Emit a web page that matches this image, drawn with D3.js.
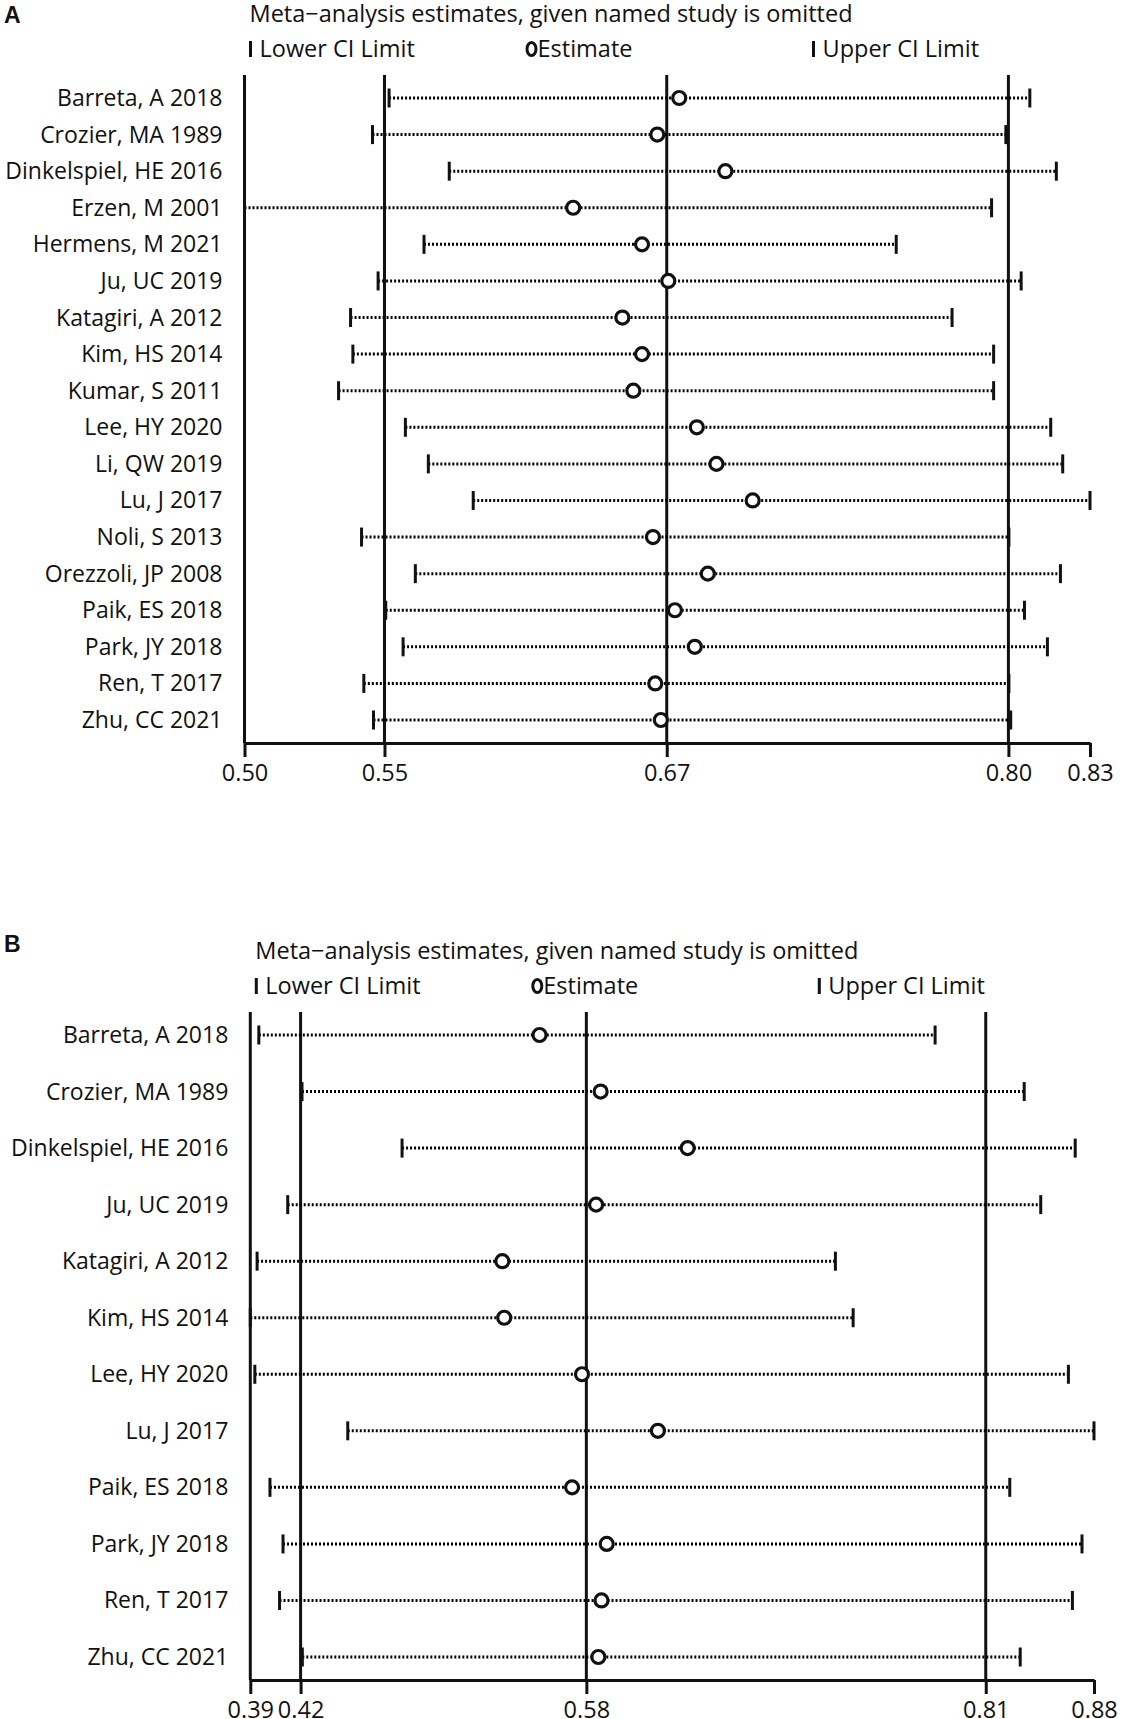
<!DOCTYPE html>
<html>
<head>
<meta charset="utf-8">
<script src="https://cdn.jsdelivr.net/npm/d3@7"></script>
<style>
  body { margin: 0; background: #fff; }
  text { font-family: "Open Sans", sans-serif; fill: #111; }
</style>
</head>
<body>
<div id="wrapper"></div>
<script>
const w = 1122
const h = 1719

const titleText = "Meta\u2212analysis estimates, given named study is omitted"
const legendLabels = ["Lower CI Limit", "Estimate", "Upper CI Limit"]

// panel A
const studiesA = ["Barreta, A 2018", "Crozier, MA 1989", "Dinkelspiel, HE 2016", "Erzen, M 2001",
  "Hermens, M 2021", "Ju, UC 2019", "Katagiri, A 2012", "Kim, HS 2014", "Kumar, S 2011",
  "Lee, HY 2020", "Li, QW 2019", "Lu, J 2017", "Noli, S 2013", "Orezzoli, JP 2008",
  "Paik, ES 2018", "Park, JY 2018", "Ren, T 2017", "Zhu, CC 2021"]
const lowerA = [0.5564, 0.5499, 0.5800, 0.4997, 0.5701, 0.5521, 0.5413, 0.5422, 0.5366,
  0.5628, 0.5718, 0.5894, 0.5456, 0.5667, 0.5551, 0.5619, 0.5465, 0.5503]
const estimateA = [0.6702, 0.6616, 0.6883, 0.6286, 0.6556, 0.6659, 0.6479, 0.6556, 0.6522,
  0.6771, 0.6848, 0.6990, 0.6599, 0.6814, 0.6685, 0.6763, 0.6608, 0.6630]
const upperA = [0.8077, 0.7983, 0.8181, 0.7927, 0.7553, 0.8043, 0.7772, 0.7935, 0.7935,
  0.8159, 0.8206, 0.8313, 0.7995, 0.8197, 0.8056, 0.8146, 0.7995, 0.8002]
// min, overall lower CI, overall estimate, overall upper CI, max
const ticksA = [0.4997, 0.5546, 0.6653, 0.7993, 0.8313]

// panel B
const studiesB = ["Barreta, A 2018", "Crozier, MA 1989", "Dinkelspiel, HE 2016", "Ju, UC 2019",
  "Katagiri, A 2012", "Kim, HS 2014", "Lee, HY 2020", "Lu, J 2017", "Paik, ES 2018",
  "Park, JY 2018", "Ren, T 2017", "Zhu, CC 2021"]
const lowerB = [0.3959, 0.4207, 0.4782, 0.4125, 0.3949, 0.3910, 0.3936, 0.4470, 0.4023,
  0.4098, 0.4078, 0.4209]
const estimateB = [0.5572, 0.5923, 0.6423, 0.5897, 0.5358, 0.5369, 0.5816, 0.6252, 0.5759,
  0.5958, 0.5928, 0.5910]
const upperB = [0.7845, 0.8357, 0.8650, 0.8452, 0.7272, 0.7374, 0.8611, 0.8758, 0.8274,
  0.8689, 0.8634, 0.8334]
const ticksB = [0.3910, 0.4199, 0.5841, 0.8136, 0.8758]

const svg = d3.select("#wrapper").append("svg")
  .attr("width", w)
  .attr("height", h)

function drawPanel(p) {
  const g = svg.append("g").attr("transform", `translate(0,${p.top})`)

  const plotTop = 75
  const plotBottom = 743

  const x = d3.scaleLinear()
    .domain(d3.extent(p.ticks))
    .range(p.xRange)

  const y = d3.scalePoint()
    .domain(p.studies)
    .range([plotTop + 23, plotBottom - 23])

  const left = x(p.ticks[0])

  // panel letter
  g.append("text")
    .attr("x", 4)
    .attr("y", p.letterY)
    .style("font-family", "'Liberation Sans', Arial, sans-serif")
    .style("font-weight", "700")
    .style("font-size", "23px")
    .text(p.letter)

  // title and legend
  g.append("text")
    .attr("x", left + 5)
    .attr("y", 22)
    .style("font-size", "23.5px")
    .text(titleText)

  const leg = g.append("g").attr("transform", `translate(${left},49)`)
  leg.append("line")
    .attr("x1", 6).attr("x2", 6).attr("y1", -8).attr("y2", 8)
    .attr("stroke", "#111").attr("stroke-width", 3)
  leg.append("text").attr("x", 15).attr("y", 8)
    .style("font-size", "23.5px").text(legendLabels[0])
  leg.append("ellipse")
    .attr("cx", 287).attr("cy", 0).attr("rx", 4.5).attr("ry", 6.5)
    .attr("fill", "none").attr("stroke", "#111").attr("stroke-width", 3)
  leg.append("text").attr("x", 293).attr("y", 8)
    .style("font-size", "23.5px").text(legendLabels[1])
  leg.append("line")
    .attr("x1", 569).attr("x2", 569).attr("y1", -8).attr("y2", 8)
    .attr("stroke", "#111").attr("stroke-width", 3)
  leg.append("text").attr("x", 578).attr("y", 8)
    .style("font-size", "23.5px").text(legendLabels[2])

  // vertical reference lines: left axis, overall lower CI, estimate, upper CI
  g.selectAll(".ref")
    .data(p.ticks.slice(0, 4))
    .enter().append("line")
    .attr("class", "ref")
    .attr("x1", d => x(d)).attr("x2", d => x(d))
    .attr("y1", plotTop).attr("y2", plotBottom)
    .attr("stroke", "#111")
    .attr("stroke-width", 3)

  // x axis
  const axis = g.append("g")
    .attr("transform", `translate(0,${plotBottom})`)
    .call(d3.axisBottom(x)
      .tickValues(p.ticks)
      .tickFormat(d3.format(".2f"))
      .tickSize(14)
      .tickSizeOuter(0))
  axis.select(".domain").attr("stroke", "#111").attr("stroke-width", 3)
  axis.selectAll(".tick line").attr("stroke", "#111").attr("stroke-width", 3)
  axis.selectAll(".tick text")
    .attr("y", 38).attr("dy", null)
    .style("font-size", "23.5px")
    .style("font-family", "'Open Sans', sans-serif")
    .attr("fill", "#111")

  const rows = p.studies.map((s, i) => ({
    name: s, lo: p.lower[i], est: p.estimate[i], hi: p.upper[i]
  }))

  const row = g.selectAll(".row")
    .data(rows)
    .enter().append("g")
    .attr("class", "row")
    .attr("transform", d => `translate(0,${y(d.name)})`)

  row.append("text")
    .attr("x", left - 22)
    .attr("y", 8)
    .attr("text-anchor", "end")
    .style("font-size", "23px")
    .text(d => d.name)

  // dotted CI line
  row.append("line")
    .attr("x1", d => x(d.lo)).attr("x2", d => x(d.hi))
    .attr("stroke", "#000")
    .attr("stroke-width", 3)
    .attr("stroke-dasharray", "2,2")

  row.selectAll(".cap")
    .data(d => [d.lo, d.hi])
    .enter().append("line")
    .attr("class", "cap")
    .attr("x1", d => x(d)).attr("x2", d => x(d))
    .attr("y1", -9.5).attr("y2", 9.5)
    .attr("stroke", "#111")
    .attr("stroke-width", 3)

  row.append("circle")
    .attr("cx", d => x(d.est))
    .attr("r", 6.5)
    .attr("fill", "#fff")
    .attr("stroke", "#111")
    .attr("stroke-width", 3.2)
}

drawPanel({ letter: "A", letterY: 23, top: 0, xRange: [244.5, 1090],
  studies: studiesA, lower: lowerA, estimate: estimateA, upper: upperA, ticks: ticksA })

drawPanel({ letter: "B", letterY: 15, top: 937, xRange: [250.3, 1094],
  studies: studiesB, lower: lowerB, estimate: estimateB, upper: upperB, ticks: ticksB })
</script>
</body>
</html>
